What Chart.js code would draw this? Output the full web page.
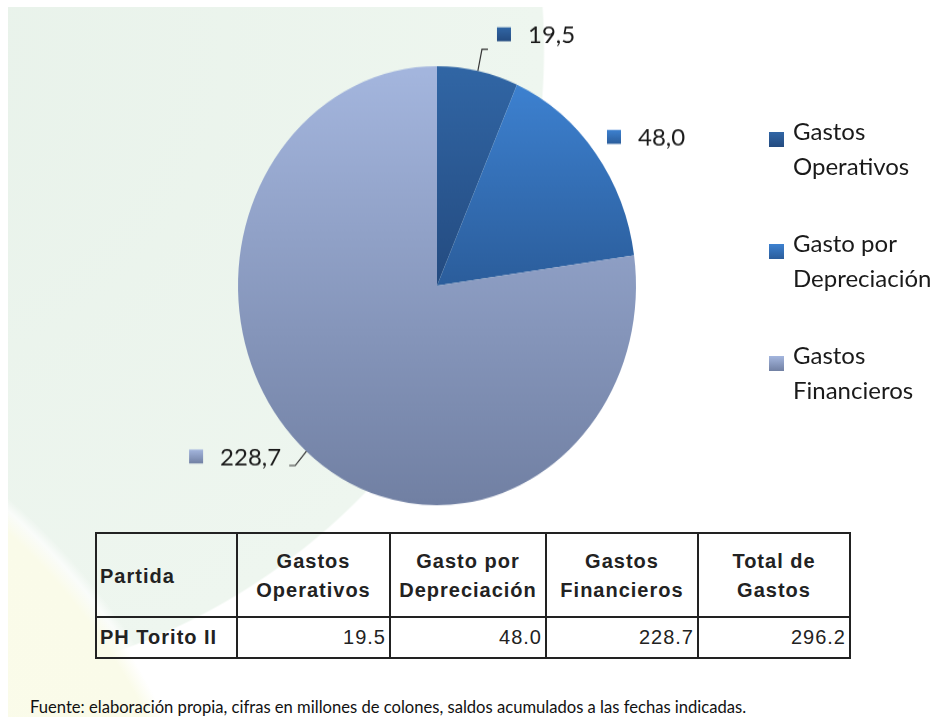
<!DOCTYPE html>
<html lang="es">
<head>
<meta charset="utf-8">
<title>Gastos PH Torito II</title>
<script src="https://cdn.jsdelivr.net/npm/chart.js@4.4.1/dist/chart.umd.min.js"></script>
<style>
  html, body { margin: 0; padding: 0; background: #fff; }
  #lienzo { position: relative; width: 937px; height: 717px; overflow: hidden; background: #fff; }
  #fondo {
    position: absolute; left: 8px; top: 7px; right: 0; bottom: 0;
    background:
      radial-gradient(circle 660px at -428px 993px, #fbfcec 0%, #fafbe9 96%, rgba(255,255,255,0.7) 98.5%, rgba(255,255,255,0) 100%),
      radial-gradient(circle 638px at -101px 43px, #e8f2ea 0%, #eef6ef 99.7%, rgba(238,246,239,0) 100%);
  }
  #torta { position: absolute; left: 0; top: 0; transform-origin: 0 0; }
  #leyenda { position: absolute; left: 769px; top: 113px; font-family: Lato, "Open Sans", sans-serif; font-size: 24px; color: #1a1a1a; }
  .item { position: relative; padding-left: 24px; line-height: 35px; width: 150px; margin-bottom: 42px; }
  .item span.cuadro { position: absolute; left: 0; top: 19px; width: 15px; height: 15px; }
  table { position: absolute; left: 95px; top: 532px; border-collapse: collapse;
    font-family: "Liberation Sans Narrow", "Liberation Sans", Arial, sans-serif; font-size: 20px; color: #222; letter-spacing: 1px; }
  td, th { border: 2px solid #222; padding: 0 3px; }
  th { height: 80px; font-weight: bold; white-space: pre-line; line-height: 29px; padding-top: 2px; }
  td { height: 39px; text-align: right; }
  th.primera, td.primera { text-align: left; }
  td.primera { font-weight: bold; }
  #fuente { position: absolute; left: 30px; top: 697px; font-family: Lato, "Open Sans", sans-serif; font-size: 16.6px; color: #111; white-space: nowrap; }
</style>
</head>
<body>
<div id="lienzo">
  <div id="fondo"></div>
  <canvas id="torta" width="937" height="478"></canvas>
  <div id="leyenda"></div>
  <table id="tabla"></table>
  <div id="fuente">Fuente: elaboración propia, cifras en millones de colones, saldos acumulados a las fechas indicadas.</div>
</div>
<script>
// datos del grafico
const categorias = ['Gastos Operativos', 'Gasto por Depreciación', 'Gastos Financieros'];
const valores = [19.5, 48.0, 228.7];
const partida = 'PH Torito II';
const encabezados = ['Partida', 'Gastos\nOperativos', 'Gasto por\nDepreciación', 'Gastos\nFinancieros', 'Total de\nGastos'];

// colores (arriba, abajo) de cada porcion
const colores = [
  ['#3166a5', '#244b80'],
  ['#3d81d0', '#2b5d9b'],
  ['#a4b6de', '#7180a3']
];

// la torta del original es un poco ovalada
const ESCALA_Y = 1.103;

// como se ubica cada etiqueta de dato
const etiquetaCfg = [
  { gap: 20, guia: true, lado: 'der', ox: 15, oy: -15 },
  { gap: 23, guia: false, lado: 'der', ox: -7, oy: -1 },
  { gap: 17, guia: true, lado: 'izq', ox: -14, oy: -9 }
];

const total = valores.reduce((a, b) => a + b, 0);

function formatoComa(v) {
  return v.toFixed(1).replace('.', ',');
}

function limitesY(chart, i) {
  const area = chart.chartArea;
  const cy = (area.top + area.bottom) / 2;
  const r = Math.min(area.width, area.height) / 2;
  const previo = valores.slice(0, i).reduce((a, b) => a + b, 0);
  const ini = -Math.PI / 2 + 2 * Math.PI * previo / total;
  const fin = ini + 2 * Math.PI * valores[i] / total;
  const ys = [cy];
  for (let k = 0; k <= 60; k++) {
    ys.push(cy + r * Math.sin(ini + (fin - ini) * k / 60));
  }
  return [Math.min(...ys), Math.max(...ys)];
}

function relleno(c) {
  const chart = c.chart;
  const i = c.dataIndex;
  if (!chart.chartArea) return colores[i][0];
  const [y0, y1] = limitesY(chart, i);
  const g = chart.ctx.createLinearGradient(0, y0, 0, y1);
  g.addColorStop(0, colores[i][0]);
  g.addColorStop(1, colores[i][1]);
  return g;
}

const etiquetas = {
  id: 'etiquetas',
  afterDatasetsDraw(chart) {
    const ctx = chart.ctx;
    const arcos = chart.getDatasetMeta(0).data;
    const cx = arcos[0].x, cy = arcos[0].y;
    ctx.save();
    ctx.translate(0, cy);
    ctx.scale(1, 1 / ESCALA_Y);
    ctx.translate(0, -cy);
    ctx.font = '24px Lato, "Open Sans", sans-serif';
    ctx.textBaseline = 'middle';
    arcos.forEach((arco, i) => {
      const cfg = etiquetaCfg[i];
      const r = arco.outerRadius;
      const medio = (arco.startAngle + arco.endAngle) / 2;
      const ux = Math.cos(medio), uy = Math.sin(medio) * ESCALA_Y;
      const ex = cx + r * ux, ey = cy + r * uy;
      const kx = cx + (r + cfg.gap) * ux, ky = cy + (r + cfg.gap) * uy;
      const texto = formatoComa(valores[i]);
      if (cfg.guia) {
        ctx.strokeStyle = '#333';
        ctx.lineWidth = 1.2;
        ctx.beginPath();
        ctx.moveTo(ex, ey);
        ctx.lineTo(kx, ky);
        ctx.lineTo(kx + (cfg.lado === 'der' ? 6 : -6), ky);
        ctx.stroke();
      }
      const ancho = ctx.measureText(texto).width;
      const y = ky + cfg.oy;
      let bx;
      if (cfg.lado === 'der') {
        bx = kx + cfg.ox;
      } else {
        bx = kx + cfg.ox - ancho - 31;
      }
      const g = ctx.createLinearGradient(0, y - 7, 0, y + 7);
      g.addColorStop(0, colores[i][0]);
      g.addColorStop(1, colores[i][1]);
      ctx.fillStyle = g;
      ctx.fillRect(bx, y - 7, 14, 14);
      ctx.fillStyle = '#1a1a1a';
      ctx.textAlign = 'left';
      ctx.fillText(texto, bx + 31, y + 1);
    });
    ctx.restore();
  }
};

const lienzoTorta = document.querySelector('#torta');
lienzoTorta.style.transform = 'scaleY(' + ESCALA_Y + ')';

const graficoTorta = new Chart(lienzoTorta, {
  type: 'pie',
  data: {
    labels: categorias,
    datasets: [{
      data: valores,
      backgroundColor: relleno,
      borderWidth: 0
    }]
  },
  options: {
    responsive: false,
    animation: false,
    layout: { padding: { left: 238, right: 301, top: 60, bottom: 20 } },
    plugins: {
      legend: { display: false },
      tooltip: { enabled: false }
    }
  },
  plugins: [etiquetas]
});

// leyenda
const leyenda = document.querySelector('#leyenda');
categorias.forEach((nombre, i) => {
  const item = document.createElement('div');
  item.className = 'item';
  const cuadro = document.createElement('span');
  cuadro.className = 'cuadro';
  cuadro.style.background = 'linear-gradient(' + colores[i][0] + ',' + colores[i][1] + ')';
  item.appendChild(cuadro);
  item.appendChild(document.createTextNode(nombre));
  leyenda.appendChild(item);
});

// tabla
const tabla = document.querySelector('#tabla');
const anchos = [141, 153, 156, 152, 152];
let filaCab = '<tr>';
encabezados.forEach((t, i) => {
  filaCab += '<th class="' + (i === 0 ? 'primera' : '') + '" style="width:' + (anchos[i] - 8) + 'px">' + t + '</th>';
});
filaCab += '</tr>';
let filaDatos = '<tr><td class="primera">' + partida + '</td>';
valores.concat([total]).forEach(v => {
  filaDatos += '<td>' + v.toFixed(1) + '</td>';
});
filaDatos += '</tr>';
tabla.innerHTML = filaCab + filaDatos;
</script>
</body>
</html>
